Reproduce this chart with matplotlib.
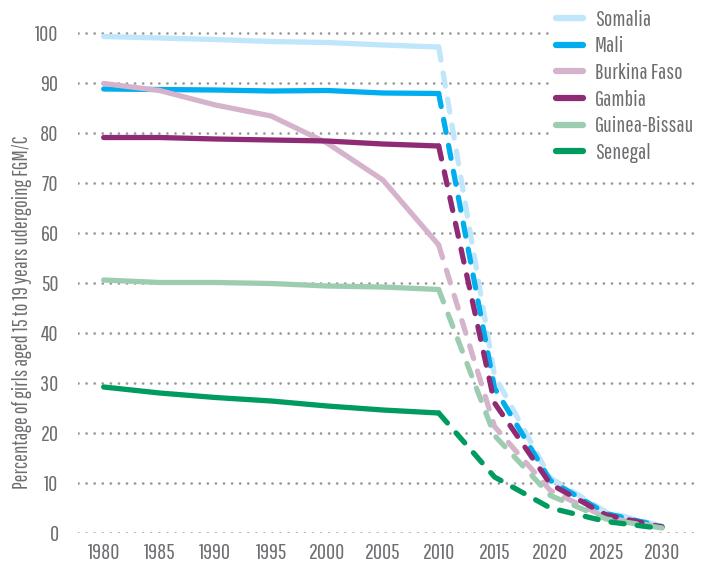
import matplotlib
matplotlib.use("Agg")
import matplotlib.pyplot as plt

# ---- data ----
years_hist = [1980, 1985, 1990, 1995, 2000, 2005, 2010]
years_proj = [2010, 2015, 2020, 2025, 2030]
countries = ["Somalia", "Mali", "Burkina Faso", "Gambia", "Guinea-Bissau", "Senegal"]
somalia_hist = [99.3, 99.0, 98.7, 98.3, 98.1, 97.6, 97.2]
somalia_proj = [97.2, 31.5, 11.0, 4.2, 1.4]
mali_hist = [88.8, 88.7, 88.6, 88.4, 88.5, 88.0, 87.9]
mali_proj = [87.9, 29.0, 10.5, 3.9, 1.3]
burkina_hist = [89.9, 88.5, 85.6, 83.4, 78.0, 70.6, 57.6]
burkina_proj = [57.6, 21.3, 8.5, 3.1, 1.1]
gambia_hist = [79.1, 79.1, 78.8, 78.6, 78.4, 77.8, 77.4]
gambia_proj = [77.4, 26.0, 9.8, 3.6, 1.2]
gb_hist = [50.6, 50.1, 50.1, 49.9, 49.4, 49.2, 48.7]
gb_proj = [48.7, 19.5, 7.5, 2.8, 1.0]
senegal_hist = [29.2, 28.0, 27.1, 26.4, 25.4, 24.6, 24.0]
senegal_proj = [24.0, 11.2, 5.0, 2.3, 0.9]
colors = ["#bfe6fa", "#00aeef", "#d5b4cb", "#8f2a74", "#9dcdb1", "#009b5f"]
x_ticks = [1980, 1985, 1990, 1995, 2000, 2005, 2010, 2015, 2020, 2025, 2030]
y_ticks = [0, 10, 20, 30, 40, 50, 60, 70, 80, 90, 100]
ylabel = "Percentage of girls aged 15 to 19 years udergoing FGM/C"

hist = [somalia_hist, mali_hist, burkina_hist, gambia_hist, gb_hist, senegal_hist]
proj = [somalia_proj, mali_proj, burkina_proj, gambia_proj, gb_proj, senegal_proj]

plt.rcParams['font.family'] = ["Pathway Gothic One", "DejaVu Sans"]
textc = "#6d6e71"

W, H = 707, 568
fig = plt.figure(figsize=(W / 100, H / 100), dpi=100)
L, R, B, T = 78, 700, 533, 13
ax = fig.add_axes([L / W, 1 - B / H, (R - L) / W, (B - T) / H])
ax.set_xlim(1977.7, 2033.4)
ax.set_ylim(0, 104)

for s in ax.spines.values():
    s.set_visible(False)

ax.set_yticks(y_ticks)
ax.set_xticks(x_ticks)
ax.tick_params(length=0, colors=textc, labelsize=16)
ax.tick_params(axis='y', pad=14)
ax.tick_params(axis='x', pad=7)
ax.yaxis.grid(True, color="#9a9a9a", linewidth=2.0, dashes=(0.01, 2.9),
              dash_capstyle='round')
ax.xaxis.grid(False)
ax.set_axisbelow(True)

lw = 3.8
handles = []
for name, c, h, p in zip(countries, colors, hist, proj):
    ln, = ax.plot(years_hist, h, color=c, lw=lw, solid_capstyle='round',
                  solid_joinstyle='round', label=name)
    ax.plot(years_proj, p, color=c, lw=lw, dashes=(2.5, 2.5),
            dash_capstyle='round', dash_joinstyle='round')
    handles.append(ln)

ax.set_ylabel(ylabel, color=textc, fontsize=15)
ax.yaxis.set_label_coords(-46 / (R - L), 0.425)

leg = fig.legend(handles=handles, loc='upper left', bbox_to_anchor=(549 / W, 1 - 3 / H),
                 frameon=True, fancybox=False, edgecolor='none', facecolor='white',
                 framealpha=1, fontsize=16, handlelength=1.25, handletextpad=0.5,
                 labelspacing=0.3, borderpad=0.3, borderaxespad=0)
for t in leg.get_texts():
    t.set_color(textc)
for lh in leg.get_lines():
    lh.set_solid_capstyle('round')
    lh.set_linewidth(4.5)

fig.savefig("out.png", dpi=100)
